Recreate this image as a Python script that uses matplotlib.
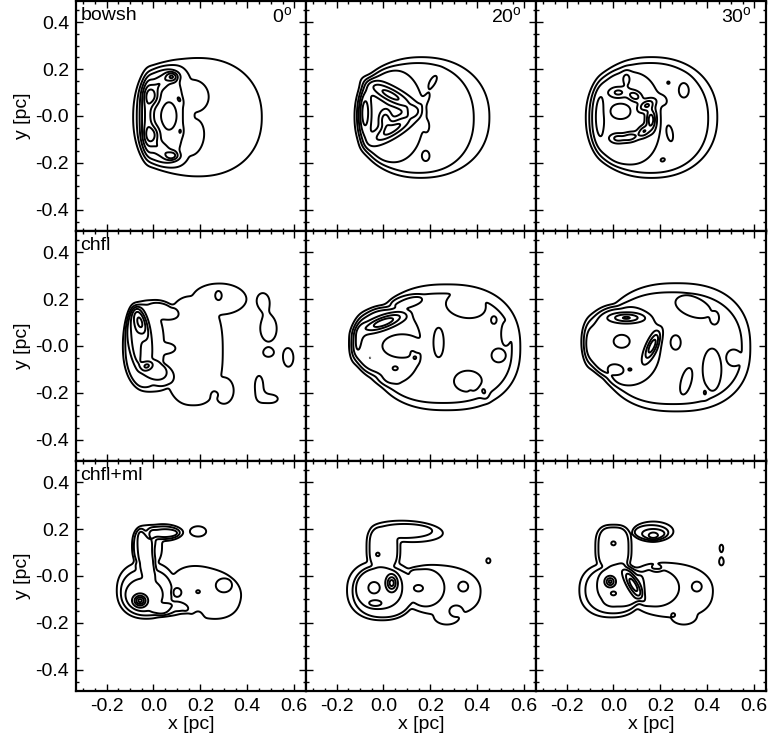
import numpy as np
import matplotlib
matplotlib.use("Agg")
import matplotlib.pyplot as plt
from matplotlib.ticker import MultipleLocator, FixedLocator

plt.rcParams["font.family"] = ["Liberation Sans", "DejaVu Sans"]
plt.rcParams["mathtext.fontset"] = "custom"
plt.rcParams["mathtext.rm"] = "Liberation Sans"

X_RANGE = (-0.33, 0.65)
Y_RANGE = (-0.49, 0.49)
LEVELS = [1, 2, 3, 4, 5, 6, 7, 8, 9]

MODELS = ["bowsh", "chfl", "chfl+ml"]
ANGLES = ["0", "20", "30"]
XTICKS = [-0.2, 0.0, 0.2, 0.4, 0.6]
XTICK_LABELS = ["-0.2", "0.0", "0.2", "0.4", "0.6"]
YTICKS = [-0.4, -0.2, 0.0, 0.2, 0.4]
YTICK_LABELS = ["-0.4", "-0.2", "-0.0", "0.2", "0.4"]

# plateau pieces: (x0, y0, rx, ry, angle, shape exponent)
# blobs: (x0, y0, sx, sy, angle, amplitude)

bowsh0_outer = [(0.19, -0.005, 0.28, 0.26, 0, 2.2)]
bowsh0_mid = [(0.05, 0.0, 0.125, 0.225, 0, 3), (0.17, 0.085, 0.065, 0.07, 20, 2),
              (0.165, -0.09, 0.05, 0.08, -10, 2)]
bowsh0_core = [(0.035, 0.0, 0.092, 0.2, 0, 2.5)]
bowsh0_hollow = []
bowsh0_blobs = [
    (-0.025, 0.0, 0.016, 0.11, 0, 2.0),
    (-0.005, 0.085, 0.02, 0.026, 0, 2.6),
    (-0.005, -0.08, 0.02, 0.026, 0, 2.6),
    (0.08, 0.168, 0.018, 0.013, 0, 3.0),
    (0.08, -0.17, 0.02, 0.012, 0, 2.6),
    (0.03, 0.14, 0.03, 0.018, 35, 1.5),
    (0.03, -0.14, 0.03, 0.018, -35, 1.5),
    (0.11, 0.07, 0.006, 0.014, 30, 1.2),
    (0.115, -0.065, 0.006, 0.014, 0, 1.2),
    (0.065, 0.0, 0.025, 0.045, 0, -1.2),
]

bowsh20_outer = [(0.17, -0.005, 0.29, 0.26, 0, 2.2)]
bowsh20_mid = [(0.14, -0.01, 0.245, 0.24, 0, 2.2)]
bowsh20_core = [(0.03, 0.0, 0.14, 0.2, 0, 2.2)]
bowsh20_hollow = []
bowsh20_blobs = [
    (0.03, 0.09, 0.075, 0.02, -28, 3.0),
    (0.04, -0.055, 0.07, 0.02, 32, 3.0),
    (-0.08, 0.015, 0.016, 0.07, 0, 2.4),
    (0.008, -0.015, 0.016, 0.026, 0, 2.2),
    (0.125, 0.02, 0.015, 0.015, 0, 1.5),
    (0.21, 0.146, 0.01, 0.028, -30, 1.0),
    (0.18, 0.07, 0.009, 0.025, -30, 1.0),
    (0.184, -0.045, 0.009, 0.022, 0, 1.0),
    (0.18, -0.17, 0.014, 0.02, 0, 1.0),
    (0.28, 0.054, 0.004, 0.006, 0, 0.8),
]

bowsh30_outer = [(0.165, -0.005, 0.285, 0.26, 0, 2.2)]
bowsh30_mid = [(0.155, -0.01, 0.25, 0.24, 0, 2.2)]
bowsh30_core = [(0.05, -0.01, 0.15, 0.2, 0, 2.5)]
bowsh30_hollow = []
bowsh30_blobs = [
    (-0.06, 0.0, 0.018, 0.09, 0, 1.0),
    (0.03, 0.02, 0.03, 0.022, 0, -1.5),
    (0.02, 0.1, 0.025, 0.014, 0, 2.0),
    (0.09, 0.085, 0.02, 0.013, -25, 2.4),
    (0.14, 0.045, 0.013, 0.025, -60, 2.8),
    (0.16, -0.015, 0.013, 0.03, 0, 3.5),
    (0.13, -0.065, 0.018, 0.013, 40, 2.8),
    (0.07, -0.09, 0.025, 0.012, 10, 2.4),
    (0.015, -0.095, 0.02, 0.012, 0, 2.0),
    (0.055, 0.16, 0.012, 0.025, 0, 1.0),
    (0.234, 0.142, 0.008, 0.008, 0, 0.9),
    (0.3, 0.11, 0.02, 0.03, 0, 0.9),
    (0.21, 0.068, 0.015, 0.02, 30, 0.9),
    (0.24, -0.074, 0.012, 0.035, 10, 0.9),
    (0.21, -0.187, 0.012, 0.008, 20, 0.9),
    (0.057, -0.152, 0.004, 0.004, 0, 0.6),
]

chfl0_outer = [(0.0, 0.0, 0.13, 0.2, 0, 2.3), (0.17, -0.02, 0.13, 0.24, 0, 2.5),
               (0.28, 0.2, 0.12, 0.07, 0, 2), (0.3, -0.19, 0.045, 0.06, 0, 2)]
chfl0_mid = [(-0.04, 0.0, 0.085, 0.18, 0, 2.2), (0.04, 0.15, 0.07, 0.035, -15, 2),
             (0.04, -0.01, 0.055, 0.025, 0, 2), (0.02, -0.12, 0.07, 0.05, -20, 2)]
chfl0_core = [(-0.06, 0.03, 0.05, 0.14, 10, 2), (0.0, -0.1, 0.06, 0.04, -25, 2)]
chfl0_hollow = []
chfl0_blobs = [
    (-0.075, 0.03, 0.015, 0.1, 5, 1.0),
    (-0.055, 0.1, 0.016, 0.042, 15, 2.8),
    (-0.028, -0.085, 0.015, 0.01, 20, 2.2),
    (0.277, 0.215, 0.012, 0.018, 0, -1.0),
    (0.262, -0.208, 0.012, 0.012, 0, -1.0),
    (0.465, 0.196, 0.025, 0.031, 0, 1.5),
    (0.49, 0.075, 0.039, 0.063, 0, 1.5),
    (0.49, -0.03, 0.018, 0.014, 0, 1.5),
    (0.575, -0.05, 0.024, 0.044, 0, 1.5),
    (0.45, -0.17, 0.02, 0.05, 0, 1.5),
    (0.5, -0.225, 0.035, 0.02, 0, 1.5),
]

chfl20_outer = [(0.27, -0.005, 0.32, 0.275, 0, 2.4), (0.02, 0.02, 0.165, 0.155, 0, 2.2)]
chfl20_mid = [(0.25, -0.01, 0.3, 0.235, 0, 2.4), (0.02, 0.02, 0.15, 0.14, 0, 2.2)]
chfl20_core = [(0.02, 0.0, 0.14, 0.165, 0, 2.2), (0.1, 0.19, 0.07, 0.025, 10, 2)]
chfl20_hollow = [(0.35, 0.17, 0.085, 0.05, -10, 2), (0.47, 0.11, 0.012, 0.018, 0, 2),
                 (0.52, 0.05, 0.018, 0.05, 0, 2), (0.49, -0.04, 0.03, 0.03, 45, 2),
                 (0.235, 0.015, 0.022, 0.065, 0, 2), (0.36, -0.15, 0.06, 0.045, 0, 2),
                 (0.08, 0.0, 0.085, 0.05, 0, 2)]
chfl20_blobs = [
    (0.0, 0.1, 0.06, 0.016, 20, 3.5),
    (-0.115, 0.02, 0.016, 0.07, -10, 1.2),
    (-0.057, -0.05, 0.008, 0.008, 0, -0.8),
    (0.05, -0.095, 0.012, 0.008, 0, 1.0),
    (0.06, -0.15, 0.005, 0.004, 0, 0.8),
    (0.13, -0.04, 0.01, 0.02, 30, 1.0),
    (0.37, -0.19, 0.004, 0.004, 0, 1.0),
    (0.43, -0.2, 0.01, 0.02, 20, 1.0),
]

chfl30_outer = [(0.27, -0.005, 0.32, 0.28, 0, 2.4), (0.02, 0.02, 0.155, 0.16, 0, 2.2)]
chfl30_mid = [(0.25, -0.01, 0.3, 0.24, 0, 2.4), (0.02, 0.02, 0.14, 0.145, 0, 2.2)]
chfl30_core = [(0.05, 0.0, 0.15, 0.17, 0, 2.2)]
chfl30_hollow = [(0.035, 0.02, 0.035, 0.028, 0, 2), (0.01, -0.1, 0.035, 0.022, -10, 2),
                 (0.265, 0.015, 0.022, 0.032, 0, 2), (0.31, -0.15, 0.022, 0.06, -15, 2),
                 (0.43, 0.12, 0.02, 0.03, 0, 2), (0.51, -0.05, 0.03, 0.035, 0, 2),
                 (0.34, 0.165, 0.08, 0.04, -20, 2), (0.42, -0.1, 0.04, 0.09, 0, 2)]
chfl30_blobs = [
    (-0.11, 0.0, 0.016, 0.08, 0, 1.0),
    (0.055, 0.12, 0.045, 0.012, 0, 3.0),
    (0.165, 0.0, 0.045, 0.013, 65, 3.5),
    (0.07, -0.1, 0.01, 0.006, 0, 1.0),
    (0.27, -0.06, 0.004, 0.004, 0, 0.8),
    (0.39, -0.2, 0.006, 0.015, 0, 1.0),
]

chflml0_outer = [(-0.025, 0.13, 0.065, 0.09, 0, 2.5), (0.04, 0.185, 0.085, 0.038, 0, 2),
                 (-0.03, -0.06, 0.13, 0.125, 0, 2.3), (0.22, -0.07, 0.16, 0.11, -15, 2.3)]
chflml0_mid = [(-0.04, 0.08, 0.045, 0.12, 10, 2), (0.04, 0.185, 0.07, 0.027, 0, 2),
               (-0.03, -0.07, 0.11, 0.1, 0, 2.2), (0.07, -0.14, 0.08, 0.035, 0, 2)]
chflml0_core = [(-0.03, 0.06, 0.03, 0.14, 10, 2), (0.05, 0.182, 0.055, 0.018, 0, 2),
                (-0.04, -0.08, 0.08, 0.07, 0, 2), (0.05, -0.14, 0.07, 0.025, 0, 2)]
chflml0_hollow = [(0.1, -0.07, 0.02, 0.02, 0, 2), (0.19, -0.067, 0.012, 0.008, 0, 2),
                  (0.3, -0.04, 0.035, 0.03, 0, 2), (0.19, -0.19, 0.025, 0.04, 0, 2)]
chflml0_blobs = [
    (-0.057, -0.105, 0.016, 0.014, 0, 4.5),
    (-0.007, 0.153, 0.01, 0.03, 0, 1.5),
    (0.19, 0.19, 0.04, 0.025, 0, 1.5),
]

chflml20_outer = [(0.0, 0.12, 0.075, 0.1, 0, 3), (0.1, 0.19, 0.16, 0.048, -3, 2),
                  (-0.01, -0.06, 0.15, 0.13, 0, 2.3), (0.24, -0.06, 0.18, 0.11, -5, 2.3),
                  (0.27, -0.17, 0.06, 0.04, 0, 2)]
chflml20_mid = [(0.0, 0.12, 0.06, 0.09, 0, 3), (0.09, 0.192, 0.12, 0.03, 0, 2),
                (0.0, -0.07, 0.13, 0.11, 0, 2.2), (0.18, -0.05, 0.08, 0.08, 0, 2)]
chflml20_core = [(-0.02, -0.05, 0.1, 0.09, 0, 2.2)]
chflml20_hollow = [(-0.04, -0.05, 0.025, 0.025, 0, 2), (-0.024, 0.092, 0.01, 0.01, 0, 2),
                   (0.34, -0.045, 0.022, 0.022, 0, 2), (0.31, -0.15, 0.03, 0.025, 0, 2)]
chflml20_blobs = [
    (0.035, -0.03, 0.013, 0.02, 0, 3.5),
    (-0.035, -0.116, 0.02, 0.008, 0, 1.5),
    (0.128, 0.018, 0.018, 0.01, 0, 1.0),
    (0.149, -0.052, 0.018, 0.012, 0, 1.0),
    (0.447, 0.065, 0.012, 0.015, 0, 1.5),
    (0.48, 0.13, 0.004, 0.004, 0, 1.2),
]

chflml30_outer = [(0.0, 0.12, 0.08, 0.1, 0, 3), (0.17, 0.19, 0.09, 0.045, 0, 2),
                  (-0.01, -0.06, 0.14, 0.12, 0, 2.3), (0.24, -0.06, 0.19, 0.12, -5, 2.3),
                  (0.3, -0.17, 0.06, 0.04, 0, 2)]
chflml30_mid = [(0.0, 0.12, 0.065, 0.09, 0, 3), (0.16, 0.185, 0.075, 0.032, 0, 2),
                (0.0, -0.06, 0.12, 0.1, 0, 2.2), (0.18, -0.05, 0.1, 0.08, 0, 2)]
chflml30_core = [(0.03, -0.04, 0.1, 0.09, 0, 2.2), (0.17, 0.18, 0.05, 0.02, 0, 2)]
chflml30_hollow = [(0.0, 0.139, 0.012, 0.01, 0, 2), (0.184, 0.033, 0.025, 0.015, 0, 2),
                   (0.355, -0.045, 0.022, 0.022, 0, 2), (0.255, -0.166, 0.01, 0.01, 0, 2)]
chflml30_blobs = [
    (-0.014, -0.024, 0.012, 0.012, 0, 3.5),
    (0.085, -0.038, 0.045, 0.013, -60, 3.5),
    (0.17, 0.17, 0.015, 0.01, 0, 1.5),
    (0.0, -0.074, 0.012, 0.008, 0, -1.0),
    (-0.02, -0.116, 0.015, 0.006, -20, 1.0),
    (0.46, 0.12, 0.01, 0.02, 0, 1.5),
    (0.46, 0.06, 0.012, 0.02, 0, 1.5),
]

PANELS = [
    [(bowsh0_outer, bowsh0_mid, bowsh0_core, bowsh0_hollow, bowsh0_blobs),
     (bowsh20_outer, bowsh20_mid, bowsh20_core, bowsh20_hollow, bowsh20_blobs),
     (bowsh30_outer, bowsh30_mid, bowsh30_core, bowsh30_hollow, bowsh30_blobs)],
    [(chfl0_outer, chfl0_mid, chfl0_core, chfl0_hollow, chfl0_blobs),
     (chfl20_outer, chfl20_mid, chfl20_core, chfl20_hollow, chfl20_blobs),
     (chfl30_outer, chfl30_mid, chfl30_core, chfl30_hollow, chfl30_blobs)],
    [(chflml0_outer, chflml0_mid, chflml0_core, chflml0_hollow, chflml0_blobs),
     (chflml20_outer, chflml20_mid, chflml20_core, chflml20_hollow, chflml20_blobs),
     (chflml30_outer, chflml30_mid, chflml30_core, chflml30_hollow, chflml30_blobs)],
]


def rotate(x, y, x0, y0, ang):
    t = np.deg2rad(ang)
    dx, dy = x - x0, y - y0
    return dx * np.cos(t) + dy * np.sin(t), -dx * np.sin(t) + dy * np.cos(t)


def plateau(x, y, parts, width=0.04):
    if not parts:
        return np.zeros_like(x)
    r = np.full(x.shape, np.inf)
    for x0, y0, rx, ry, ang, p in parts:
        u, v = rotate(x, y, x0, y0, ang)
        r = np.minimum(r, (np.abs(u / rx) ** p + np.abs(v / ry) ** p) ** (1.0 / p))
    return 1.0 / (1.0 + np.exp((r - 1.0) / width))


def blobs(x, y, parts):
    z = np.zeros_like(x)
    for x0, y0, sx, sy, ang, amp in parts:
        u, v = rotate(x, y, x0, y0, ang)
        z += amp * np.exp(-0.5 * ((u / sx) ** 2 + (v / sy) ** 2))
    return z


def smooth(z, sigma_px=2.5):
    k = np.arange(-10, 11)
    kern = np.exp(-0.5 * (k / sigma_px) ** 2)
    kern /= kern.sum()
    z = np.apply_along_axis(lambda m: np.convolve(m, kern, mode="same"), 0, z)
    return np.apply_along_axis(lambda m: np.convolve(m, kern, mode="same"), 1, z)


xs = np.linspace(*X_RANGE, 400)
ys = np.linspace(*Y_RANGE, 400)
X, Y = np.meshgrid(xs, ys)

fig = plt.figure(figsize=(7.71, 7.47), dpi=100)
W, H = 771.0, 747.0
lefts = [76, 306, 536]
tops = [1, 231, 461]
size = 230

for i in range(3):
    for j in range(3):
        ax = fig.add_axes([lefts[j] / W, 1 - (tops[i] + size) / H, size / W, size / H])
        outer, mid, core, hollow, bl = PANELS[i][j]
        Z = (1.5 * plateau(X, Y, outer) + plateau(X, Y, mid) + plateau(X, Y, core)
             - plateau(X, Y, hollow) + blobs(X, Y, bl))
        Z = smooth(Z)
        ax.contour(X, Y, Z, levels=LEVELS, colors="k", linewidths=1.4)

        ax.set_xlim(*X_RANGE)
        ax.set_ylim(*Y_RANGE)
        ax.xaxis.set_major_locator(FixedLocator(XTICKS))
        ax.yaxis.set_major_locator(FixedLocator(YTICKS))
        ax.xaxis.set_minor_locator(MultipleLocator(0.05))
        ax.yaxis.set_minor_locator(MultipleLocator(0.05))
        ax.tick_params(which="both", direction="in", top=True, right=True,
                       width=1.0, labelsize=14, pad=5)
        ax.tick_params(which="major", length=5)
        ax.tick_params(which="minor", length=2.5)
        for s in ax.spines.values():
            s.set_linewidth(1.6)

        if j == 0:
            ax.set_yticklabels(YTICK_LABELS)
            ax.set_ylabel("y [pc]", fontsize=14, labelpad=3)
            ax.text(0.02, 0.975, MODELS[i], transform=ax.transAxes,
                    ha="left", va="top", fontsize=14)
        else:
            ax.set_yticklabels([])
        if i == 2:
            ax.set_xticklabels(XTICK_LABELS)
            ax.set_xlabel("x [pc]", fontsize=14, labelpad=1)
        else:
            ax.set_xticklabels([])
        if i == 0:
            ax.text(0.94, 0.975, ANGLES[j] + r"$^{\rm o}$", transform=ax.transAxes,
                    ha="right", va="top", fontsize=14)

fig.savefig("out.png", dpi=100)
